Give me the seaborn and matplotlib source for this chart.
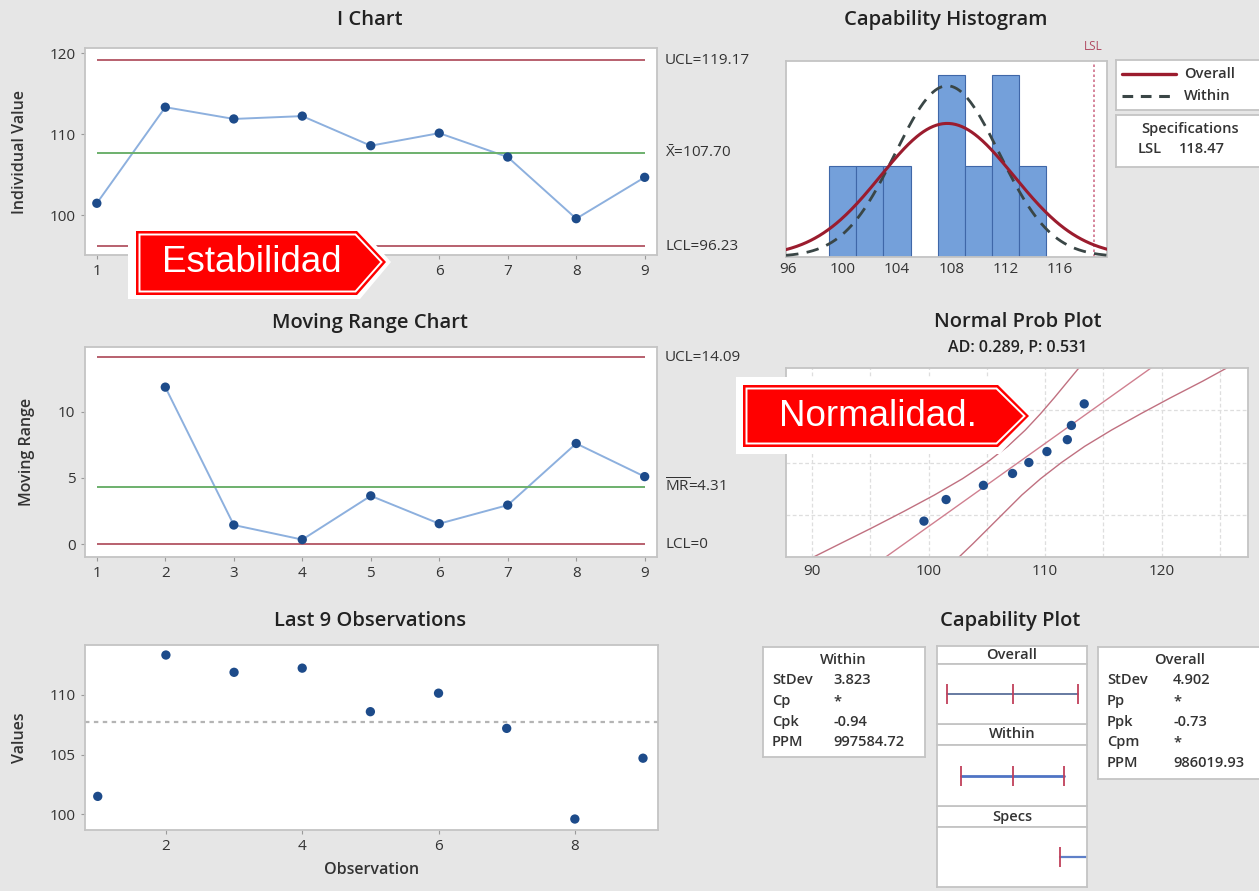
import numpy as np
import pandas as pd
import matplotlib
matplotlib.use("Agg")
import matplotlib.pyplot as plt
import matplotlib.transforms as mtrans
from matplotlib.patches import Polygon
import seaborn as sns

# ---------------- data ----------------
obs = [1, 2, 3, 4, 5, 6, 7, 8, 9]
values = [101.5, 113.35, 111.9, 112.25, 108.6, 110.15, 107.2, 99.6, 104.7]
mr_obs = [2, 3, 4, 5, 6, 7, 8, 9]
mr_values = [11.85, 1.45, 0.35, 3.65, 1.55, 2.95, 7.6, 5.1]
# tick labels of the I chart that are visible (2-5 are covered by the call-out)
i_tick_labels = ["1", "", "", "", "", "6", "7", "8", "9"]

i_limits = {"UCL": 119.17, "CL": 107.70, "LCL": 96.23}
mr_limits = {"UCL": 14.09, "CL": 4.31, "LCL": 0.0}

mean_val = 107.70
sd_within = 3.823
sd_overall = 4.902
lsl = 118.47
hist_bins = [99, 101, 103, 105, 107, 109, 111, 113, 115]
hist_ticks = [96, 100, 104, 108, 112, 116]

# normal probability plot (z-scores of plotting positions) and read bands
prob_z = [-1.443, -0.912, -0.562, -0.270, 0.0, 0.270, 0.562, 0.912, 1.443]
band_z = [-2.33, -2.0, -1.6, -1.2, -0.8, -0.4, 0.0, 0.4, 0.8, 1.2, 1.6, 2.0, 2.33]
band_left = [90.1, 92.4, 95.2, 97.9, 100.5, 102.9, 105.0, 106.8, 108.3, 109.6, 110.8, 111.95, 112.9]
band_right = [102.6, 103.8, 105.2, 106.6, 108.0, 109.6, 111.4, 113.4, 115.7, 118.2, 120.8, 123.5, 125.6]
band_center_x = [96.3, 119.1]
band_center_z = [-2.33, 2.33]
prob_grid_z = [-1.2816, 0.0, 1.2816]
prob_grid_x = [90, 95, 100, 105, 110, 115, 120, 125]

overall_interval = [92.99, 107.70, 122.41]
within_interval = [96.23, 107.70, 119.17]

within_stats = [("StDev", "3.823"), ("Cp", "*"), ("Cpk", "-0.94"), ("PPM", "997584.72")]
overall_stats = [("StDev", "4.902"), ("Pp", "*"), ("Ppk", "-0.73"), ("Cpm", "*"), ("PPM", "986019.93")]

# ---------------- style ----------------
sns.set_theme(style="white")
plt.rcParams["font.family"] = ["Open Sans", "DejaVu Sans"]
plt.rcParams["mathtext.fontset"] = "custom"
plt.rcParams["mathtext.rm"] = "Open Sans"

BG = "#e6e6e6"
SPINE = "#c4c4c4"
TXT = "#333333"
LINE_BLUE = "#8db0de"
DOT = "#1d4b8a"
LIMIT_RED = "#b8606e"
CL_GREEN = "#6cb06c"

W, H = 1259, 891
fig = plt.figure(figsize=(W / 100, H / 100), dpi=100, facecolor=BG)


def ax_px(l, t, r, b):
    return fig.add_axes([l / W, 1 - b / H, (r - l) / W, (b - t) / H])


def style(ax, labelsize=11):
    ax.set_facecolor("white")
    for s in ax.spines.values():
        s.set_color(SPINE)
        s.set_linewidth(1.3)
    ax.tick_params(axis="both", colors="#9a9a9a", labelcolor=TXT, labelsize=labelsize,
                   length=3, width=0.8, direction="out", bottom=True, left=True)


def px_box(l, t, r, b):
    ax = ax_px(l, t, r, b)
    ax.set_xlim(l, r)
    ax.set_ylim(b, t)
    ax.set_xticks([])
    ax.set_yticks([])
    ax.set_facecolor("white")
    for s in ax.spines.values():
        s.set_color(SPINE)
        s.set_linewidth(1.3)
    return ax


def ftext(x, y, s, **kw):
    kw.setdefault("ha", "center")
    kw.setdefault("va", "center")
    kw.setdefault("color", TXT)
    fig.text(x / W, 1 - y / H, s, **kw)


TITLE_KW = dict(fontsize=14.5, fontweight="semibold", color="#222222")
LAB_KW = dict(fontsize=11.5, fontweight="semibold", color=TXT)

# ---------------- I Chart ----------------
ax1 = ax_px(84.5, 48, 657, 255)
style(ax1)
df_i = pd.DataFrame({"obs": obs, "value": values})
sns.lineplot(data=df_i, x="obs", y="value", ax=ax1, color=LINE_BLUE, lw=1.4)
sns.scatterplot(data=df_i, x="obs", y="value", ax=ax1, color=DOT, s=45, edgecolor="none", zorder=4)
ax1.hlines([i_limits["UCL"], i_limits["LCL"]], 1, 9, color=LIMIT_RED, lw=1.4)
ax1.hlines(i_limits["CL"], 1, 9, color=CL_GREEN, lw=1.4)
ax1.set_xlim(0.82, 9.18)
ax1.set_ylim(95.12, 120.65)
ax1.set_xticks(obs)
ax1.set_xticklabels(i_tick_labels)
ax1.set_yticks([100, 110, 120])
ax1.set_xlabel("")
ax1.set_ylabel("Individual Value", **LAB_KW)
ax1.yaxis.set_label_coords(-0.099, 0.5)
tr1 = mtrans.blended_transform_factory(ax1.transAxes, ax1.transData)
ax1.text(1.014, i_limits["UCL"], "UCL=119.17", transform=tr1, va="center", fontsize=11, color=TXT)
ax1.text(1.014, i_limits["CL"], r"$\bar{\mathrm{X}}$=107.70", transform=tr1, va="center", fontsize=11, color=TXT)
ax1.text(1.014, i_limits["LCL"], "LCL=96.23", transform=tr1, va="center", fontsize=11, color=TXT)
ftext(370, 20, "I Chart", **TITLE_KW)

# ---------------- Moving Range Chart ----------------
ax2 = ax_px(84.5, 346.7, 657, 556.7)
style(ax2)
df_mr = pd.DataFrame({"obs": mr_obs, "mr": mr_values})
sns.lineplot(data=df_mr, x="obs", y="mr", ax=ax2, color=LINE_BLUE, lw=1.4)
sns.scatterplot(data=df_mr, x="obs", y="mr", ax=ax2, color=DOT, s=45, edgecolor="none", zorder=4)
ax2.hlines([mr_limits["UCL"], mr_limits["LCL"]], 1, 9, color=LIMIT_RED, lw=1.4)
ax2.hlines(mr_limits["CL"], 1, 9, color=CL_GREEN, lw=1.4)
ax2.set_xlim(0.82, 9.18)
ax2.set_ylim(-0.94, 14.9)
ax2.set_xticks(obs)
ax2.set_yticks([0, 5, 10])
ax2.set_xlabel("")
ax2.set_ylabel("Moving Range", **LAB_KW)
ax2.yaxis.set_label_coords(-0.087, 0.5)
tr2 = mtrans.blended_transform_factory(ax2.transAxes, ax2.transData)
ax2.text(1.014, mr_limits["UCL"], "UCL=14.09", transform=tr2, va="center", fontsize=11, color=TXT)
ax2.text(1.014, mr_limits["CL"], r"$\overline{\mathrm{MR}}$=4.31", transform=tr2, va="center", fontsize=11, color=TXT)
ax2.text(1.014, mr_limits["LCL"], "LCL=0", transform=tr2, va="center", fontsize=11, color=TXT)
ftext(370, 323, "Moving Range Chart", **TITLE_KW)

# ---------------- Last 9 Observations ----------------
ax3 = ax_px(84.8, 645, 658, 830)
style(ax3)
sns.scatterplot(data=df_i, x="obs", y="value", ax=ax3, color=DOT, s=45, edgecolor="none", zorder=4)
ax3.axhline(mean_val, color="#b4b4b4", lw=1.6, ls=(0, (2, 2)))
ax3.set_xlim(0.81, 9.22)
ax3.set_ylim(98.68, 114.19)
ax3.set_xticks([2, 4, 6, 8])
ax3.set_yticks([100, 105, 110])
ax3.set_xlabel("Observation", **LAB_KW)
ax3.set_ylabel("Values", **LAB_KW)
ax3.yaxis.set_label_coords(-0.099, 0.5)
ax3.xaxis.set_label_coords(0.5, -0.175)
ftext(370, 621, "Last 9 Observations", **TITLE_KW)

# ---------------- Capability Histogram ----------------
ax4 = ax_px(786, 61, 1107, 256.7)
style(ax4)
sns.histplot(x=values, bins=hist_bins, stat="density", ax=ax4, color="#74a0da",
             edgecolor="#3f67a8", linewidth=0.8, alpha=1.0)
xs = np.linspace(95.83, 119.46, 300)
pdf_overall = np.exp(-0.5 * ((xs - mean_val) / sd_overall) ** 2) / (sd_overall * np.sqrt(2 * np.pi))
pdf_within = np.exp(-0.5 * ((xs - mean_val) / sd_within) ** 2) / (sd_within * np.sqrt(2 * np.pi))
ax4.plot(xs, pdf_within, color="#3a4646", lw=2.0, ls=(0, (4.5, 3)), zorder=5)
ax4.plot(xs, pdf_overall, color="#9b1c2e", lw=2.2, zorder=6)
ax4.axvline(lsl, color="#d0708a", lw=1.2, ls=(0, (1.5, 1.5)))
ax4.set_xlim(95.83, 119.46)
ax4.set_ylim(0, 0.1195)
ax4.set_xticks(hist_ticks)
ax4.set_yticks([])
ax4.set_ylabel("")
ax4.tick_params(axis="x", length=0, pad=4)
ftext(1093, 47, "LSL", fontsize=8.5, color="#b04a62")
ftext(946, 20, "Capability Histogram", **TITLE_KW)

# legend box
lg = px_box(1116, 60, 1266, 110)
lg.plot([1122, 1176], [74, 74], color="#9b1c2e", lw=2.4)
lg.plot([1122, 1176], [96, 96], color="#3a4646", lw=2.2, ls=(0, (3.5, 2.5)))
lg.text(1184, 74, "Overall", va="center", ha="left", fontsize=10.5, fontweight="semibold", color=TXT)
lg.text(1184, 96, "Within", va="center", ha="left", fontsize=10.5, fontweight="semibold", color=TXT)
sp = px_box(1116, 115, 1266, 167)
sp.text(1190, 129, "Specifications", va="center", ha="center", fontsize=10.5, fontweight="semibold", color=TXT)
sp.text(1138, 149, "LSL", va="center", ha="left", fontsize=10.5, fontweight="semibold", color=TXT)
sp.text(1179, 149, "118.47", va="center", ha="left", fontsize=10.5, fontweight="semibold", color=TXT)

# ---------------- Normal Prob Plot ----------------
ax5 = ax_px(785.7, 368, 1248, 557)
style(ax5)
for gz in prob_grid_z:
    ax5.axhline(gz, color="#dedede", lw=0.9, ls=(0, (3, 2)), zorder=0)
for gx in prob_grid_x:
    ax5.axvline(gx, color="#dedede", lw=0.9, ls=(0, (3, 2)), zorder=0)
ax5.plot(band_left, band_z, color="#c07080", lw=1.0)
ax5.plot(band_center_x, band_center_z, color="#d08090", lw=1.0)
ax5.plot(band_right, band_z, color="#c07080", lw=1.0)
df_p = pd.DataFrame({"x": sorted(values), "z": prob_z})
sns.scatterplot(data=df_p, x="x", y="z", ax=ax5, color=DOT, s=45, edgecolor="none", zorder=5)
ax5.set_xlim(87.74, 127.4)
ax5.set_ylim(-2.326, 2.326)
ax5.set_xticks([90, 100, 110, 120])
ax5.set_yticks([])
ax5.set_xlabel("")
ax5.set_ylabel("")
ax5.tick_params(axis="x", length=0, pad=5)
ftext(1018, 322, "Normal Prob Plot", **TITLE_KW)
ftext(1018, 348, "AD: 0.289, P: 0.531", fontsize=11.5, fontweight="semibold", color="#222222")

# ---------------- Capability Plot ----------------
ftext(1010, 621, "Capability Plot", **TITLE_KW)

wb = px_box(763, 647, 925, 757)
wb.text(843, 660, "Within", ha="center", va="center", fontsize=10.5, fontweight="semibold", color=TXT)
for (lab, val), y in zip(within_stats, [680, 701, 722, 742]):
    wb.text(772, y, lab, ha="left", va="center", fontsize=10.5, fontweight="semibold", color=TXT)
    wb.text(833, y, val, ha="left", va="center", fontsize=10.5, fontweight="semibold", color=TXT)

ob = px_box(1098, 647, 1266, 779)
ob.text(1180, 660, "Overall", ha="center", va="center", fontsize=10.5, fontweight="semibold", color=TXT)
for (lab, val), y in zip(overall_stats, [680, 701, 722, 742, 763]):
    ob.text(1107, y, lab, ha="left", va="center", fontsize=10.5, fontweight="semibold", color=TXT)
    ob.text(1173, y, val, ha="left", va="center", fontsize=10.5, fontweight="semibold", color=TXT)

headers = [("Overall", 646, 664), ("Within", 724, 745), ("Specs", 806, 827)]
for name, t, b in headers:
    hb = px_box(937, t, 1087, b)
    hb.text(1012, (t + b) / 2, name, ha="center", va="center", fontsize=10.5, fontweight="semibold", color=TXT)

panels = [(664, 724), (745, 806), (827, 887)]
cap_axes = []
for t, b in panels:
    pa = ax_px(937, t, 1087, b)
    pa.set_xlim(90.73, 124.44)
    pa.set_ylim(0, 1)
    pa.set_xticks([])
    pa.set_yticks([])
    pa.set_facecolor("white")
    for s in pa.spines.values():
        s.set_color(SPINE)
        s.set_linewidth(1.3)
    cap_axes.append(pa)

TICK_RED = "#c0405a"
cap_axes[0].plot([overall_interval[0], overall_interval[-1]], [0.5, 0.5], color="#5a6f9a", lw=1.3)
cap_axes[0].plot(overall_interval, [0.5] * 3, ls="none", marker="|", ms=15, mew=1.3, color=TICK_RED)
cap_axes[1].plot([within_interval[0], within_interval[-1]], [0.5, 0.5], color="#4f74c4", lw=2.0)
cap_axes[1].plot(within_interval, [0.5] * 3, ls="none", marker="|", ms=15, mew=1.3, color=TICK_RED)
cap_axes[2].plot([lsl, 124.44], [0.5, 0.5], color="#5f80c8", lw=1.6)
cap_axes[2].plot([lsl], [0.5], ls="none", marker="|", ms=15, mew=1.3, color=TICK_RED)

# ---------------- red arrow call-outs ----------------
def callout(outer, red, inner, text, cx, cy):
    conv = lambda pts: [(x / W, 1 - y / H) for x, y in pts]
    fig.add_artist(Polygon(conv(outer), closed=True, transform=fig.transFigure,
                           facecolor="white", edgecolor="none", zorder=20))
    fig.add_artist(Polygon(conv(red), closed=True, transform=fig.transFigure,
                           facecolor="#ff0000", edgecolor="none", zorder=21))
    fig.add_artist(Polygon(conv(inner), closed=True, transform=fig.transFigure,
                           facecolor="none", edgecolor="white", lw=1.4, zorder=22))
    fig.text(cx / W, 1 - cy / H, text, ha="center", va="center", color="white",
             fontsize=26.5, family=["Liberation Sans", "DejaVu Sans"], zorder=23)


callout(outer=[(128, 227), (360, 227), (391, 262), (360, 299), (128, 299)],
        red=[(136, 231), (357, 231), (386, 262), (357, 295), (136, 295)],
        inner=[(139.5, 234.5), (355.5, 234.5), (381.5, 262), (355.5, 291.5), (139.5, 291.5)],
        text="Estabilidad", cx=252, cy=263)

callout(outer=[(736, 377), (1000, 377), (1034, 416), (1000, 454), (736, 454)],
        red=[(743, 385), (998, 385), (1029, 416), (998, 447), (743, 447)],
        inner=[(746.5, 388.5), (996.5, 388.5), (1024.5, 416), (996.5, 443.5), (746.5, 443.5)],
        text="Normalidad.", cx=878, cy=417)

fig.savefig("out.png", dpi=100, facecolor=BG)
